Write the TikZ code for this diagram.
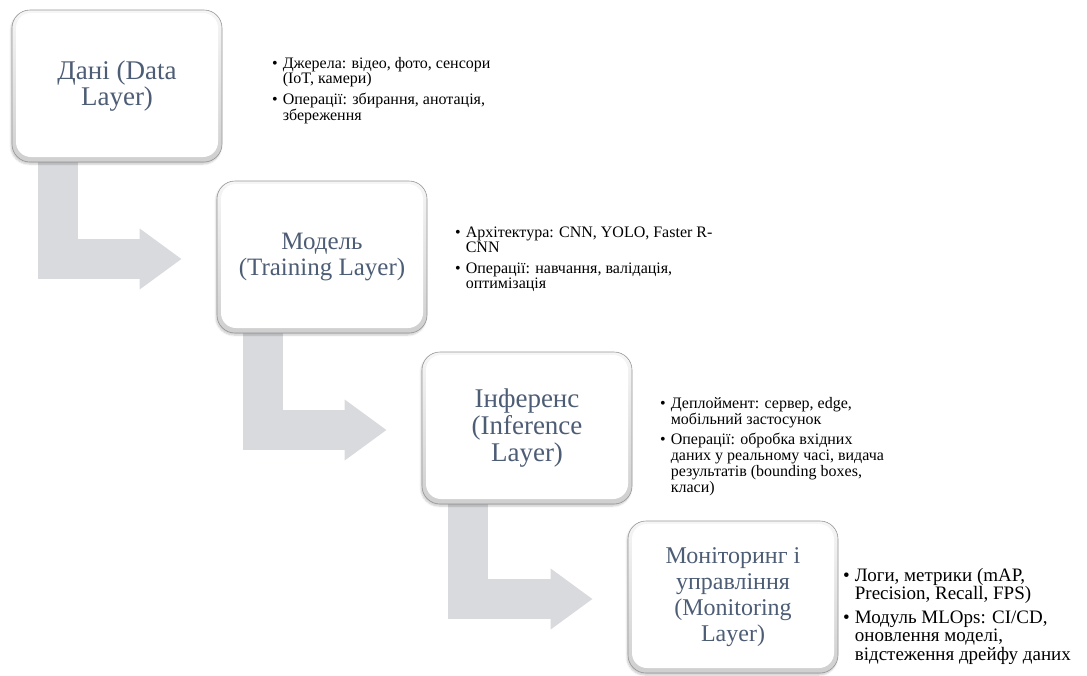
\documentclass[tikz,border=0pt]{standalone}
\usepackage{fontspec}
\setmainfont{Liberation Serif}
\usetikzlibrary{calc,arrows.meta,shadows.blur}
\definecolor{titleclr}{HTML}{4D5D75}
\definecolor{arrowclr}{HTML}{D9DADE}
\definecolor{rimtop}{HTML}{F6F6F6}
\definecolor{rimbot}{HTML}{CFCFCF}
\definecolor{edgeclr}{HTML}{969696}
\pgfdeclarelayer{bg}
\pgfsetlayers{bg,main}

\begin{document}
\begin{tikzpicture}[x=1pt,y=-1pt,
  layerbox/.style={rounded corners=18pt, minimum width=210pt, minimum height=152pt,
    inner sep=0pt, draw=edgeclr, line width=0.6pt,
    top color=rimtop, bottom color=rimbot,
    blur shadow={shadow xshift=-1pt, shadow yshift=-2pt,
      shadow blur steps=6, shadow opacity=22},
    path picture={\fill[white, rounded corners=15pt]
      ([xshift=4pt,yshift=-3pt]path picture bounding box.north west) rectangle
      ([xshift=-4pt,yshift=5pt]path picture bounding box.south east);}},
  boxtitle/.style={align=center, text=titleclr, inner sep=0pt},
  bullets/.style={anchor=base west, inner sep=0pt, align=left,
    font=\fontsize{16}{15.8}\selectfont},
  bigbullets/.style={bullets, font=\fontsize{19}{18.5}\selectfont},
  bentarrow/.style={draw=arrowclr, line width=40pt, line join=miter,
    -{Triangle[width=58pt,length=42pt]}}]

% page frame
\useasboundingbox (0,0) rectangle (1087,675);

% layer boxes
\node[layerbox] (b1) at (117,86) {};
\node[layerbox] (b2) at (322,257) {};
\node[layerbox] (b3) at (527,428) {};
\node[layerbox] (b4) at (733,597) {};

\node[boxtitle, font=\fontsize{27}{26}\selectfont] (h1) at (b1) {Дані (Data\\Layer)};
\node[boxtitle, font=\fontsize{25}{26}\selectfont] (h2) at (b2) {Модель\\(Training Layer)};
\node[boxtitle, font=\fontsize{27}{27}\selectfont] (h3) at (b3) {Інференс\\(Inference\\Layer)};
\node[boxtitle, font=\fontsize{24}{26}\selectfont] (h4) at (b4) {Моніторинг і\\управління\\(Monitoring\\Layer)};

% bent connectors between consecutive layers
\begin{pgfonlayer}{bg}
\draw[bentarrow] ($(b1.west)+(46,0)$) |- ($(b2.west)+(-35,2)$);
\draw[bentarrow] ($(b2.west)+(46,0)$) |- ($(b3.west)+(-35,2)$);
\draw[bentarrow] ($(b3.west)+(46,0)$) |- ($(b4.west)+(-35,2)$);
\end{pgfonlayer}

% descriptions
\node[bullets] (t1) at (272,68) {\begin{tabular}[t]{@{}l@{\hspace{5pt}}l@{}}
•& Джерела: відео, фото, сенсори\\
 & (IoT, камери)\\[4.5pt]
•& Операції: збирання, анотація,\\
 & збереження
\end{tabular}};

\node[bullets] (t2) at (455,237) {\begin{tabular}[t]{@{}l@{\hspace{5pt}}l@{}}
•& Архітектура: CNN, YOLO, Faster R-\\
 & CNN\\[4.5pt]
•& Операції: навчання, валідація,\\
 & оптимізація
\end{tabular}};

\node[bullets] (t3) at (660,408) {\begin{tabular}[t]{@{}l@{\hspace{5pt}}l@{}}
•& Деплоймент: сервер, edge,\\
 & мобільний застосунок\\[4.5pt]
•& Операції: обробка вхідних\\
 & даних у реальному часі, видача\\
 & результатів (bounding boxes,\\
 & класи)
\end{tabular}};

\node[bigbullets] (t4) at (843,581) {\begin{tabular}[t]{@{}l@{\hspace{5pt}}l@{}}
•& Логи, метрики (mAP,\\
 & Precision, Recall, FPS)\\[5pt]
•& Модуль MLOps: CI/CD,\\
 & оновлення моделі,\\
 & відстеження дрейфу даних
\end{tabular}};
\end{tikzpicture}
\end{document}
